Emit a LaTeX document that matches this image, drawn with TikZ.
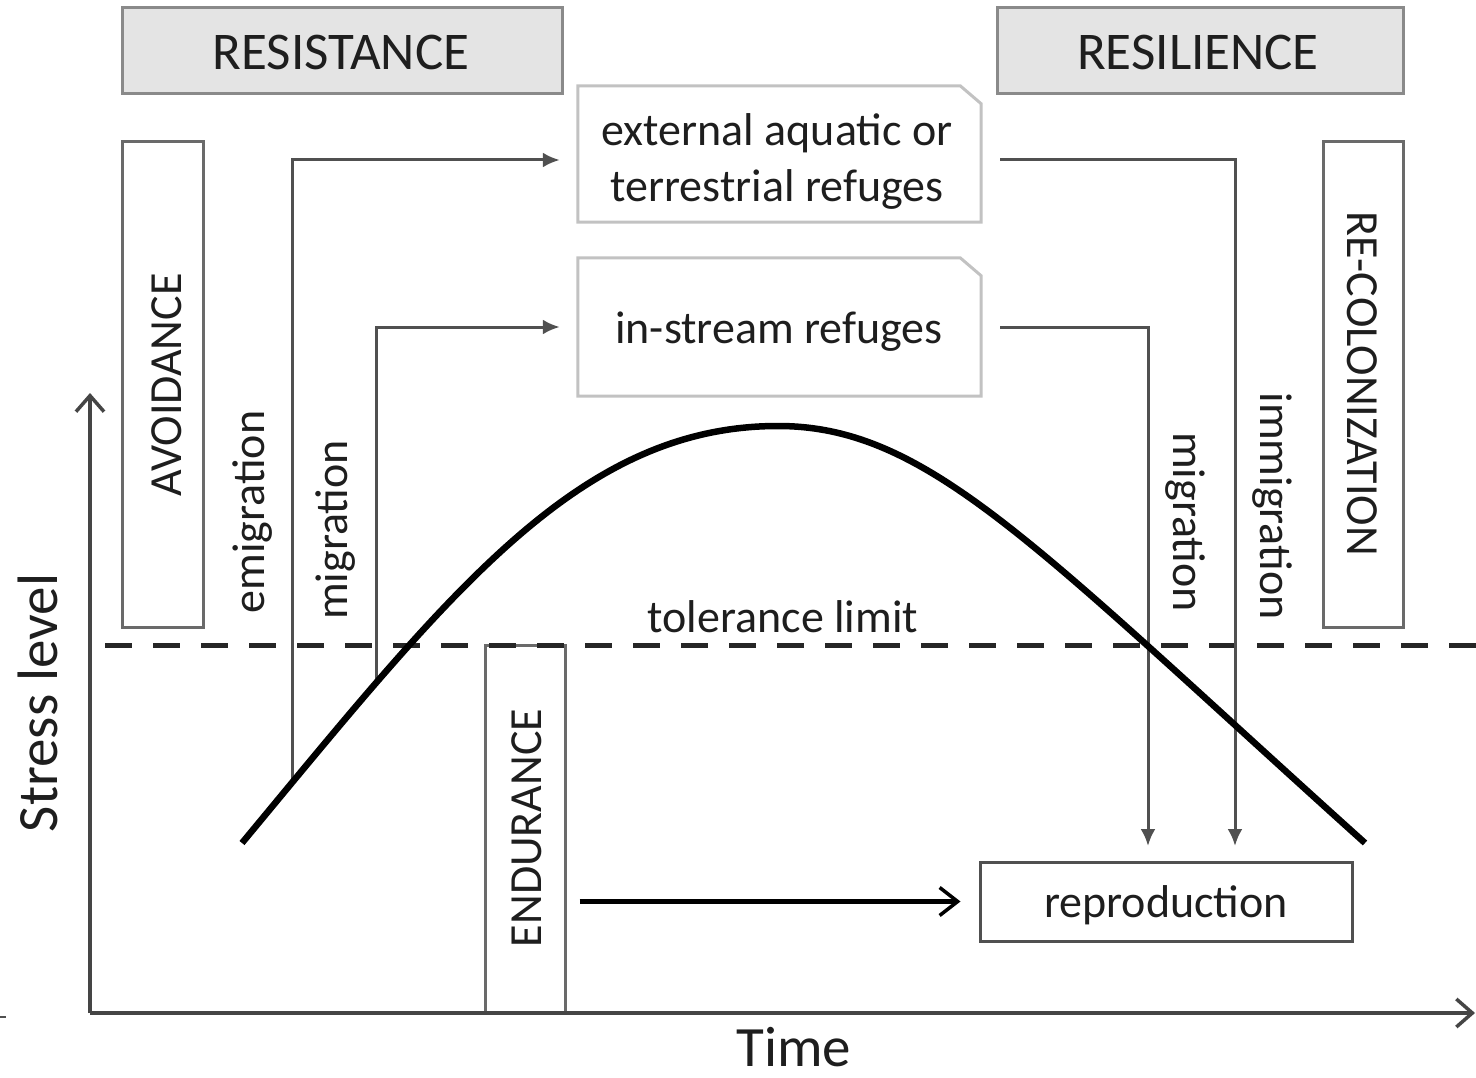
\documentclass[tikz,border=0pt]{standalone}
\usepackage{fontspec}
\setmainfont{Carlito}
\usetikzlibrary{arrows.meta,intersections,calc}

\definecolor{ink}{HTML}{1E1E1E}
\definecolor{headfill}{HTML}{E4E4E4}
\definecolor{headline}{HTML}{8A8A8A}
\definecolor{boxline}{HTML}{6A6A6A}
\definecolor{refline}{HTML}{C2C2C2}
\definecolor{connline}{HTML}{505050}
\definecolor{axisline}{HTML}{454545}

\begin{document}
\begin{tikzpicture}[x=1pt,y=-1pt,
  txt/.style={text=ink, inner sep=0pt, font=\fontsize{46}{56}\selectfont},
  headtxt/.style={text=ink, inner sep=0pt, font=\fontsize{53}{60}\selectfont},
  axistxt/.style={text=ink, inner sep=0pt, font=\fontsize{57}{66}\selectfont},
  headbox/.style={draw=headline, fill=headfill, line width=3pt, inner sep=0pt},
  labbox/.style={draw=boxline, line width=3pt, inner sep=0pt},
  refline/.style={draw=refline, line width=3pt},
  conn/.style={draw=connline, line width=3pt, -{Latex[length=17pt,width=15pt]}},
  bigarrow/.style={draw=black, line width=4.5pt, -{Straight Barb[length=18pt,width=28pt,line width=3.5pt]}},
  axis/.style={draw=axisline, line width=4pt, -{Straight Barb[length=16pt,width=28pt,line width=3.5pt]}},
  tolline/.style={draw=black!85, line width=5pt, dash pattern=on 27pt off 21pt},
  stresscurve/.style={draw=black, line width=6.5pt}
]
\useasboundingbox (0,0) rectangle (1476,1078);

% heading boxes
\node[headbox, minimum width=440pt, minimum height=86pt] (resist) at (342,51) {};
\node[headtxt] (resistT) at (341,52) {RESISTANCE};
\node[headbox, minimum width=406pt, minimum height=86pt] (resil) at (1200,51) {};
\node[headtxt] (resilT) at (1198,52) {RESILIENCE};

% refuge boxes with a cut upper-right corner
\node[inner sep=0pt, minimum width=403pt, minimum height=136pt] (ext) at (779.5,154) {};
\draw[refline] (ext.south west) -- (ext.north west) -- ([xshift=-21pt]ext.north east)
  -- ([yshift=-18pt]ext.north east) -- (ext.south east) -- cycle;
\node[txt, align=center] (extT) at (777,161) {external aquatic or\\terrestrial refuges};
\node[inner sep=0pt, minimum width=403pt, minimum height=138pt] (ins) at (779.5,327) {};
\draw[refline] (ins.south west) -- (ins.north west) -- ([xshift=-21pt]ins.north east)
  -- ([yshift=-18pt]ins.north east) -- (ins.south east) -- cycle;
\node[txt] (insT) at (779,332) {in-stream refuges};

% strategy boxes
\node[labbox, minimum width=81pt, minimum height=485pt] (avoid) at (162.5,384.5) {};
\node[txt, rotate=90] (avoidT) at (167,385) {AVOIDANCE};
\node[labbox, minimum width=80pt, minimum height=485pt] (recol) at (1363,384.5) {};
\node[txt, rotate=-90] (recolT) at (1362,384) {RE-COLONIZATION};
\node[labbox, minimum width=80pt, minimum height=368pt] (endur) at (525,829) {};
\node[txt, rotate=90] (endurT) at (527,828) {ENDURANCE};
\node[labbox, draw=connline, minimum width=372pt, minimum height=79pt] (repro) at (1166,901.5) {};
\node[txt] (reproT) at (1166,905) {reproduction};

% axes
\coordinate (origin) at (90,1013);
\coordinate (ytop) at (90,393);
\coordinate (xend) at (1475,1013);
\draw[axis] (origin) -- (ytop);
\draw[axis] (origin) -- (xend);
\draw[draw=connline, line width=2pt] (0,1017) -- (6,1017);
\node[axistxt, rotate=90] (ylab) at (38,703) {Stress level};
\node[axistxt] (xlab) at (794,1047) {Time};

% tolerance limit
\coordinate (tolL) at (105,645);
\coordinate (tolR) at (1476,645);
\draw[tolline] (tolL) -- (tolR);
\node[txt] (tolT) at (783,617) {tolerance limit};

% stress curve: rise, rounded crest, fall
\coordinate (c0) at (242,843);
\coordinate (peak) at (778,426);
\coordinate (c1) at (1365,843);
\path[name path=stress] (c0) .. controls (449.5,593) and (578,426) .. (peak)
  .. controls (928,426) and (1035,546) .. (c1);
\path[name path=vemi] (292,1000) -- (292,300);
\path[name path=vmig] (377,1000) -- (377,300);
\path[name intersections={of=stress and vemi, by=emiStart}];
\path[name intersections={of=stress and vmig, by=migStart}];

% movement connectors
\coordinate (immEnd) at (1235,846);
\coordinate (migEnd) at (1148,846);
\draw[conn, shorten >=18pt] (emiStart) |- ([yshift=-6pt]ext.west);
\draw[conn, shorten >=18pt] (migStart) |- (ins.west);
\draw[conn, shorten <=19pt] ([yshift=-6pt]ext.east) -| (immEnd);
\draw[conn, shorten <=19pt] (ins.east) -| (migEnd);
\draw[bigarrow, shorten <=13pt, shorten >=18pt] (endur.east |- repro.west) -- (repro.west);

% connector labels
\node[txt, rotate=90] (emiT) at (253,512) {emigration};
\node[txt, rotate=90] (migT) at (336,530) {migration};
\node[txt, rotate=-90] (mig2T) at (1185,522) {migration};
\node[txt, rotate=-90] (immT) at (1272,506) {immigration};

% the stress curve itself
\draw[stresscurve] (c0) .. controls (449.5,593) and (578,426) .. (peak)
  .. controls (928,426) and (1035,546) .. (c1);
\end{tikzpicture}
\end{document}
